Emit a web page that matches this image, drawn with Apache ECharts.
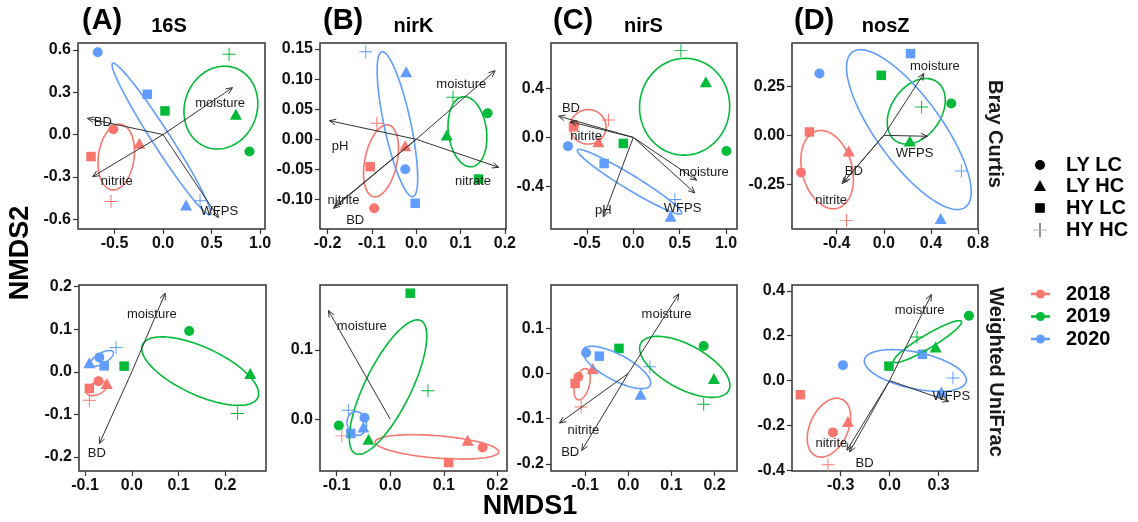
<!DOCTYPE html>
<html><head><meta charset="utf-8">
<script src="https://cdn.jsdelivr.net/npm/echarts@6/dist/echarts.min.js"></script>
<style>html,body{margin:0;padding:0;background:#fff}#c{width:1138px;height:522px}</style>
</head><body><div id="c"></div>
<script>
// ---------------- DATA ----------------
const years = ['2018', '2019', '2020'];
const yearColors = ['#F8766D', '#00BA38', '#619CFF'];
const treatments = ['LY LC', 'LY HC', 'HY LC', 'HY HC'];
const genes = ['16S', 'nirK', 'nirS', 'nosZ'];
const letters = ['(A)', '(B)', '(C)', '(D)'];
const distances = ['Bray Curtis', 'Weighted UniFrac'];

// points: [NMDS1, NMDS2, yearIndex, treatmentIndex]
const pts16S_BC = [
  [-0.512, 0.038, 0, 0], [-0.244, -0.062, 0, 1], [-0.742, -0.156, 0, 2], [-0.536, -0.475, 0, 3],
  [0.89, -0.12, 1, 0], [0.75, 0.144, 1, 1], [0.02, 0.168, 1, 2], [0.68, 0.57, 1, 3],
  [-0.673, 0.584, 2, 0], [0.237, -0.499, 2, 1], [-0.162, 0.286, 2, 2], [0.381, -0.47, 2, 3]];
const ptsNirK_BC = [
  [-0.0948, -0.1146, 0, 0], [-0.0248, -0.0106, 0, 1], [-0.1038, -0.0455, 0, 2], [-0.0887, 0.0266, 0, 3],
  [0.161, 0.0432, 1, 0], [0.069, 0.007, 1, 1], [0.1406, -0.066, 1, 2], [0.083, 0.0698, 1, 3],
  [-0.0248, -0.0498, 2, 0], [-0.0226, 0.1123, 2, 1], [-0.0023, -0.1063, 2, 2], [-0.1136, 0.1455, 2, 3]];
const ptsNirS_BC = [
  [-0.638, 0.1, 0, 0], [-0.376, -0.036, 0, 1], [-0.645, 0.086, 0, 2], [-0.269, 0.141, 0, 3],
  [1.004, -0.111, 1, 0], [0.782, 0.452, 1, 1], [-0.108, -0.049, 1, 2], [0.513, 0.705, 1, 3],
  [-0.705, -0.071, 2, 0], [0.402, -0.64, 2, 1], [-0.315, -0.212, 2, 2], [0.448, -0.505, 2, 3]];
const ptsNosZ_BC = [
  [-0.703, -0.19, 0, 0], [-0.298, -0.08, 0, 1], [-0.632, 0.017, 0, 2], [-0.317, -0.434, 0, 3],
  [0.573, 0.162, 1, 0], [0.221, -0.029, 1, 1], [-0.022, 0.306, 1, 2], [0.321, 0.144, 1, 3],
  [-0.547, 0.315, 2, 0], [0.483, -0.425, 2, 1], [0.227, 0.417, 2, 2], [0.659, -0.182, 2, 3]];
const pts16S_WU = [
  [-0.0715, -0.0219, 0, 0], [-0.0535, -0.0273, 0, 1], [-0.0908, -0.039, 0, 2], [-0.0908, -0.0666, 0, 3],
  [0.1227, 0.0958, 1, 0], [0.2533, -0.0038, 1, 1], [-0.0165, 0.0134, 1, 2], [0.2262, -0.098, 1, 3],
  [-0.0694, 0.0339, 2, 0], [-0.0908, 0.0212, 2, 1], [-0.0593, 0.0141, 2, 2], [-0.0336, 0.0574, 2, 3]];
const ptsNirK_WU = [
  [0.1725, -0.041, 0, 0], [0.1445, -0.0304, 0, 1], [0.109, -0.0628, 0, 2], [-0.0903, -0.0242, 0, 3],
  [-0.0959, -0.0091, 1, 0], [-0.0405, -0.029, 1, 1], [0.0374, 0.1822, 1, 2], [0.0704, 0.041, 1, 3],
  [-0.048, 0.0019, 2, 0], [-0.05, -0.0112, 2, 1], [-0.0735, -0.0207, 2, 2], [-0.078, 0.013, 2, 3]];
const ptsNirS_WU = [
  [-0.1155, -0.0076, 0, 0], [-0.0822, 0.0111, 0, 1], [-0.1231, -0.0222, 0, 2], [-0.1092, -0.0742, 0, 3],
  [0.1748, 0.0607, 1, 0], [0.1986, -0.0111, 1, 1], [-0.0215, 0.0556, 1, 2], [0.1748, -0.0682, 1, 3],
  [-0.0977, 0.0458, 2, 0], [0.0286, -0.046, 2, 1], [-0.067, 0.0384, 2, 2], [0.0501, 0.0147, 2, 3]];
const ptsNosZ_WU = [
  [-0.3472, -0.231, 0, 0], [-0.2554, -0.1829, 0, 1], [-0.5468, -0.0629, 0, 2], [-0.3778, -0.3748, 0, 3],
  [0.4856, 0.289, 1, 0], [0.2817, 0.1497, 1, 1], [-0.0043, 0.0643, 1, 2], [0.1672, 0.1946, 1, 3],
  [-0.286, 0.0688, 2, 0], [0.3166, -0.0512, 2, 1], [0.2002, 0.1169, 2, 2], [0.3876, 0.0117, 2, 3]];

// ellipses: [axisEnd1 NMDS1, NMDS2, axisEnd2 NMDS1, NMDS2, minor/major ratio, yearIndex]
const ell16S_BC = [[-0.436, 0.073, -0.528, -0.392, 0.54, 0], [0.744, 0.472, 0.447, -0.089, 0.86, 1], [-0.519, 0.506, 0.485, -0.569, 0.1, 2]];
const ellNirK_BC = [[-0.0625, 0.0238, -0.0964, -0.0953, 0.44, 0], [0.1054, 0.0708, 0.1257, -0.0455, 0.54, 1], [-0.0774, 0.1455, -0.0074, -0.0952, 0.18, 2]];
const ellNirS_BC = [[-0.681, 0.086, -0.294, 0.086, 0.96, 0], [0.598, 0.641, 0.508, -0.143, 0.93, 1], [-0.602, -0.103, 0.52, -0.618, 0.12, 2]];
const ellNosZ_BC = [[-0.57, 0.022, -0.393, -0.372, 0.625, 0], [0.451, 0.273, 0.1, -0.028, 0.69, 1], [-0.267, 0.425, 0.693, -0.367, 0.34, 2]];
const ell16S_WU = [[-0.0535, -0.0282, -0.0964, -0.0499, 0.55, 0], [0.0231, 0.064, 0.2694, -0.0607, 0.376, 1], [-0.04, 0.0468, -0.0884, 0.0162, 0.4, 2]];
const ellNirK_WU = [[-0.028, -0.0329, 0.2024, -0.0474, 0.18, 0], [0.0572, 0.1425, -0.0652, -0.0497, 0.31, 1], [-0.0673, 0.0106, -0.0574, -0.0232, 0.8, 2]];
const ellNirS_WU = [[-0.0975, 0.0107, -0.1164, -0.0582, 0.45, 0], [0.0291, 0.0669, 0.2328, -0.0376, 0.44, 1], [-0.1044, 0.0529, 0.0508, -0.0262, 0.34, 2]];
const ellNosZ_WU = [[-0.2915, -0.0836, -0.4519, -0.3362, 0.61, 0], [0.0245, 0.0836, 0.439, 0.2634, 0.17, 1], [-0.1543, 0.0935, 0.4691, -0.0036, 0.35, 2]];

// env-fit arrows: [name, tip NMDS1, tip NMDS2, label NMDS1, label NMDS2]
const arr16S_BC = [['BD', -0.78, 0.115, -0.62, 0.087], ['nitrite', -0.725, -0.298, -0.477, -0.333], ['moisture', 0.715, 0.333, 0.588, 0.222], ['WFPS', 0.57, -0.589, 0.58, -0.546]];
const arrNirK_BC = [['moisture', 0.178, 0.114, 0.1016, 0.0919], ['pH', -0.1957, 0.0309, -0.1716, -0.0123], ['nitrate', 0.186, -0.0465, 0.128, -0.0704], ['nitrite', -0.1828, -0.1108, -0.164, -0.1008], ['BD', -0.1866, -0.1146, -0.1377, -0.134]];
const arrNirS_BC = [['BD', -0.806, 0.173, -0.673, 0.236], ['nitrite', -0.68, 0.127, -0.509, 0.011], ['moisture', 0.682, -0.347, 0.76, -0.288], ['WFPS', 0.663, -0.451, 0.531, -0.578], ['pH', -0.323, -0.646, -0.323, -0.597]];
const arrNosZ_BC = [['moisture', 0.34, 0.315, 0.434, 0.349], ['WFPS', 0.369, -0.005, 0.261, -0.09], ['BD', -0.34, -0.238, -0.255, -0.182], ['nitrite', -0.354, -0.246, -0.448, -0.332]];
const arr16S_WU = [['moisture', 0.0713, 0.1845, 0.0428, 0.1358], ['BD', -0.0694, -0.1685, -0.075, -0.1906]];
const arrNirK_WU = [['moisture', -0.1153, 0.157, -0.053, 0.1348]];
const arrNirS_WU = [['moisture', 0.1171, 0.1762, 0.0887, 0.1318], ['nitrite', -0.1594, -0.1098, -0.1039, -0.126], ['BD', -0.1076, -0.1704, -0.1346, -0.1742]];
const arrNosZ_WU = [['moisture', 0.2553, 0.3834, 0.1837, 0.3115], ['WFPS', 0.3631, -0.093, 0.3778, -0.0706], ['BD', -0.245, -0.3178, -0.1531, -0.3703], ['nitrite', -0.2615, -0.3101, -0.357, -0.2804]];

// tick labels
const xt16S_BC = [-0.5, 0, 0.5, 1.0], yt16S_BC = [-0.6, -0.3, 0, 0.3, 0.6];
const xtNirK_BC = [-0.2, -0.1, 0, 0.1, 0.2], ytNirK_BC = [-0.10, -0.05, 0, 0.05, 0.10, 0.15];
const xtNirS_BC = [-0.5, 0, 0.5, 1.0], ytNirS_BC = [-0.4, 0, 0.4];
const xtNosZ_BC = [-0.4, 0, 0.4, 0.8], ytNosZ_BC = [-0.25, 0, 0.25];
const xt16S_WU = [-0.1, 0, 0.1, 0.2], yt16S_WU = [-0.2, -0.1, 0, 0.1, 0.2];
const xtNirK_WU = [-0.1, 0, 0.1, 0.2], ytNirK_WU = [0, 0.1];
const xtNirS_WU = [-0.1, 0, 0.1, 0.2], ytNirS_WU = [-0.2, -0.1, 0, 0.1];
const xtNosZ_WU = [-0.3, 0, 0.3], ytNosZ_WU = [-0.4, -0.2, 0, 0.2, 0.4];

// ---------------- LAYOUT / STYLE ----------------
const FONT = '"Liberation Sans", Arial, sans-serif';
const plusPath = 'path://M-1,-0.075H1V0.075H-1Z M-0.075,-1H0.075V1H-0.075Z';
const shapeSym = ['circle', 'triangle', 'rect', plusPath];
const shapeSize = [10, [12, 11], 9.5, 13];

const panels = [
  {pts: pts16S_BC, ell: ell16S_BC, arr: arr16S_BC, xt: xt16S_BC, yt: yt16S_BC, xd: 1, yd: 1, xr: [-0.876, 1.05], yr: [-0.67, 0.65], g: [78, 43, 187, 186]},
  {pts: ptsNirK_BC, ell: ellNirK_BC, arr: arrNirK_BC, xt: xtNirK_BC, yt: ytNirK_BC, xd: 1, yd: 2, xr: [-0.217, 0.2025], yr: [-0.149, 0.16], g: [320, 43, 186, 186]},
  {pts: ptsNirS_BC, ell: ellNirS_BC, arr: arrNirS_BC, xt: xtNirS_BC, yt: ytNirS_BC, xd: 1, yd: 1, xr: [-0.888, 1.118], yr: [-0.744, 0.767], g: [551, 43, 186, 186]},
  {pts: ptsNosZ_BC, ell: ellNosZ_BC, arr: arrNosZ_BC, xt: xtNosZ_BC, yt: ytNosZ_BC, xd: 1, yd: 2, xr: [-0.78, 0.8], yr: [-0.478, 0.471], g: [792, 43, 186, 186]},
  {pts: pts16S_WU, ell: ell16S_WU, arr: arr16S_WU, xt: xt16S_WU, yt: yt16S_WU, xd: 1, yd: 1, xr: [-0.113, 0.287], yr: [-0.233, 0.204], g: [79, 285, 187, 186]},
  {pts: ptsNirK_WU, ell: ellNirK_WU, arr: arrNirK_WU, xt: xtNirK_WU, yt: ytNirK_WU, xd: 1, yd: 1, xr: [-0.131, 0.218], yr: [-0.075, 0.194], g: [320, 285, 187, 186]},
  {pts: ptsNirS_WU, ell: ellNirS_WU, arr: arrNirS_WU, xt: xtNirS_WU, yt: ytNirS_WU, xd: 1, yd: 1, xr: [-0.179, 0.252], yr: [-0.216, 0.196], g: [551, 285, 186, 186]},
  {pts: ptsNosZ_WU, ell: ellNosZ_WU, arr: arrNosZ_WU, xt: xtNosZ_WU, yt: ytNosZ_WU, xd: 1, yd: 1, xr: [-0.598, 0.541], yr: [-0.403, 0.426], g: [792, 285, 186, 186]}
];

const fmt = d => v => {
  const s = Number(v).toFixed(d);
  return (Math.abs(Number(v)) < 1e-9) ? (0).toFixed(d) : s;
};

const grids = [], xAxes = [], yAxes = [], series = [];
panels.forEach((p, i) => {
  grids.push({left: p.g[0], top: p.g[1], width: p.g[2], height: p.g[3], show: true,
    borderColor: '#333', borderWidth: 1.5, backgroundColor: 'transparent', containLabel: false});
  const common = {type: 'value', gridIndex: i, splitLine: {show: false},
    axisLine: {show: false, onZero: false}, axisTick: {show: true, length: 5, lineStyle: {color: '#333', width: 1.2}}};
  xAxes.push(Object.assign({}, common, {position: 'bottom', min: p.xr[0], max: p.xr[1],
    axisTick: Object.assign({}, common.axisTick, {customValues: p.xt}),
    axisLabel: {customValues: p.xt, formatter: fmt(p.xd), color: '#111', fontWeight: 'bold', fontSize: 16, fontFamily: FONT, margin: 7}}));
  yAxes.push(Object.assign({}, common, {position: 'left', min: p.yr[0], max: p.yr[1],
    axisTick: Object.assign({}, common.axisTick, {customValues: p.yt}),
    axisLabel: {customValues: p.yt, formatter: fmt(p.yd), color: '#111', fontWeight: 'bold', fontSize: 16, fontFamily: FONT, margin: 7}}));

  series.push({type: 'scatter', xAxisIndex: i, yAxisIndex: i, silent: true, z: 2,
    data: p.pts.map(d => ({value: [d[0], d[1]], symbol: shapeSym[d[3]], symbolSize: shapeSize[d[3]],
      itemStyle: {color: yearColors[d[2]], opacity: 1}}))});

  series.push({type: 'custom', xAxisIndex: i, yAxisIndex: i, silent: true, z: 3,
    encode: {x: [0, 2], y: [1, 3]},
    data: p.ell,
    renderItem: (params, api) => {
      const p1 = api.coord([api.value(0), api.value(1)]);
      const p2 = api.coord([api.value(2), api.value(3)]);
      const r = api.value(4), yi = api.value(5);
      const cx = (p1[0] + p2[0]) / 2, cy = (p1[1] + p2[1]) / 2;
      const ax = (p2[0] - p1[0]) / 2, ay = (p2[1] - p1[1]) / 2;
      const bx = -ay * r, by = ax * r;
      const pts = [];
      for (let k = 0; k <= 120; k++) {
        const t = k / 120 * 2 * Math.PI;
        pts.push([cx + ax * Math.cos(t) + bx * Math.sin(t), cy + ay * Math.cos(t) + by * Math.sin(t)]);
      }
      return {type: 'polyline', shape: {points: pts}, style: {stroke: yearColors[yi], lineWidth: 1.6, fill: null}};
    }});

  const names = p.arr.map(a => a[0]);
  series.push({type: 'custom', xAxisIndex: i, yAxisIndex: i, silent: true, z: 4,
    encode: {x: [0, 2], y: [1, 3]},
    data: p.arr.map(a => a.slice(1)),
    renderItem: (params, api) => {
      const o = api.coord([0, 0]);
      const e = api.coord([api.value(0), api.value(1)]);
      const l = api.coord([api.value(2), api.value(3)]);
      const ang = Math.atan2(e[1] - o[1], e[0] - o[0]);
      const h = 7, w = 0.42;
      const a1 = [e[0] - h * Math.cos(ang - w), e[1] - h * Math.sin(ang - w)];
      const a2 = [e[0] - h * Math.cos(ang + w), e[1] - h * Math.sin(ang + w)];
      return {type: 'group', children: [
        {type: 'line', shape: {x1: o[0], y1: o[1], x2: e[0], y2: e[1]}, style: {stroke: '#333', lineWidth: 1}},
        {type: 'polyline', shape: {points: [a1, e, a2]}, style: {stroke: '#333', lineWidth: 1, fill: null}},
        {type: 'text', x: l[0], y: l[1], style: {text: names[params.dataIndex], fill: '#1a1a1a',
          font: '13px ' + FONT, align: 'center', verticalAlign: 'middle'}}
      ]};
    }});
});

// titles & legend as graphic text
const titleX = [[82, 169], [323, 413.5], [553, 643.5], [794, 885.7]];
const graphics = [];
letters.forEach((L, k) => {
  graphics.push({type: 'text', left: titleX[k][0], top: 6, style: {text: L, fill: '#000', font: 'bold 29px ' + FONT}});
  graphics.push({type: 'text', x: titleX[k][1], y: 26.5, style: {text: genes[k], fill: '#000', font: 'bold 20px ' + FONT, align: 'center', verticalAlign: 'middle'}});
});
graphics.push({type: 'text', x: 995, y: 134, rotation: -Math.PI / 2, style: {text: distances[0], fill: '#1a1a1a', font: 'bold 20px ' + FONT, align: 'center', verticalAlign: 'middle'}});
graphics.push({type: 'text', x: 996, y: 372, rotation: -Math.PI / 2, style: {text: distances[1], fill: '#1a1a1a', font: 'bold 20px ' + FONT, align: 'center', verticalAlign: 'middle'}});
graphics.push({type: 'text', x: 21, y: 253, rotation: Math.PI / 2, style: {text: 'NMDS2', fill: '#000', font: 'bold 27px ' + FONT, align: 'center', verticalAlign: 'middle'}});
graphics.push({type: 'text', x: 530, y: 507, style: {text: 'NMDS1', fill: '#000', font: 'bold 27px ' + FONT, align: 'center', verticalAlign: 'middle'}});

// shape legend
const legY = [165, 186, 208, 230];
const lx = 1040;
graphics.push({type: 'circle', shape: {cx: lx, cy: legY[0], r: 5}, style: {fill: '#000'}});
graphics.push({type: 'polygon', shape: {points: [[lx - 6, legY[1] + 5], [lx + 6, legY[1] + 5], [lx, legY[1] - 6]]}, style: {fill: '#000'}});
graphics.push({type: 'rect', shape: {x: lx - 4.8, y: legY[2] - 4.8, width: 9.6, height: 9.6}, style: {fill: '#000'}});
graphics.push({type: 'line', shape: {x1: lx, y1: legY[3] - 7, x2: lx, y2: legY[3] + 7}, style: {stroke: '#222', lineWidth: 1}});
graphics.push({type: 'line', shape: {x1: lx - 7, y1: legY[3], x2: lx + 7, y2: legY[3]}, style: {stroke: '#bbb', lineWidth: 1}});
treatments.forEach((t, k) => {
  graphics.push({type: 'text', x: 1066, y: legY[k], style: {text: t, fill: '#000', font: 'bold 20px ' + FONT, align: 'left', verticalAlign: 'middle'}});
});
// year legend
const yrY = [294, 316.5, 339];
years.forEach((y, k) => {
  graphics.push({type: 'line', shape: {x1: 1031, y1: yrY[k], x2: 1050, y2: yrY[k]}, style: {stroke: yearColors[k], lineWidth: 2.5}});
  graphics.push({type: 'circle', shape: {cx: 1040.5, cy: yrY[k], r: 4.5}, style: {fill: yearColors[k]}});
  graphics.push({type: 'text', x: 1066, y: yrY[k], style: {text: y, fill: '#000', font: 'bold 20px ' + FONT, align: 'left', verticalAlign: 'middle'}});
});

const chart = echarts.init(document.getElementById('c'), null, {renderer: 'canvas'});
chart.setOption({
  animation: false,
  backgroundColor: '#fff',
  grid: grids, xAxis: xAxes, yAxis: yAxes, series: series,
  graphic: graphics
});
</script></body></html>
